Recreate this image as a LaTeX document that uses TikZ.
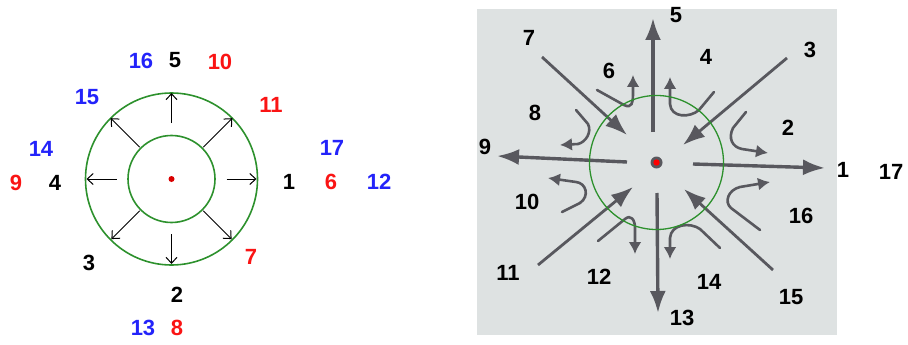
\documentclass[tikz,border=0pt]{standalone}
\usepackage{fontspec}
\setmainfont{Liberation Sans}
\usetikzlibrary{arrows.meta}
\definecolor{ringgreen}{RGB}{45,145,45}
\definecolor{labblue}{RGB}{35,35,250}
\definecolor{labred}{RGB}{250,20,20}
\definecolor{paper}{RGB}{222,226,226}
\definecolor{scan}{RGB}{88,88,94}
\begin{document}
\begin{tikzpicture}[x=1pt,y=-1pt,
  lb/.style={font=\bfseries\fontsize{22}{24}\selectfont,inner sep=0pt},
  ring/.style={draw=ringgreen,line width=1.6pt},
  ar/.style={-{Straight Barb[length=6pt,width=11pt]},line width=1pt},
  mv/.style={draw=scan,line width=3.4pt,-{Latex[length=22pt,width=16pt]}},
  tn/.style={draw=scan,line width=2.6pt,line cap=round,-{Latex[length=12pt,width=13pt]}}]
  \useasboundingbox (0,0) rectangle (908,345);
  \coordinate (lc) at (171.5,179);
  \draw[ring] (lc) circle (86);
  \draw[ring] (lc) circle (43.5);
  \fill[red!85!black] (lc) circle (3);
  \draw[ar] ([shift={(0:55)}]lc) -- ([shift={(0:85)}]lc);
  \draw[ar] ([shift={(90:55)}]lc) -- ([shift={(90:85)}]lc);
  \draw[ar] ([shift={(180:55)}]lc) -- ([shift={(180:85)}]lc);
  \draw[ar] ([shift={(270:56)}]lc) -- ([shift={(270:86)}]lc);
  \draw[ar] ([shift={(45:45)}]lc) -- ([shift={(45:85)}]lc);
  \draw[ar] ([shift={(135:45)}]lc) -- ([shift={(135:85)}]lc);
  \draw[ar] ([shift={(225:45)}]lc) -- ([shift={(225:86)}]lc);
  \draw[ar] ([shift={(315:45)}]lc) -- ([shift={(315:86)}]lc);
  \node[lb,text=labblue] (l16) at (141,61) {16};
  \node[lb] (l5) at (175,60) {5};
  \node[lb,text=labred] (l10) at (220,62) {10};
  \node[lb,text=labblue] (l15) at (87,97) {15};
  \node[lb,text=labred] (l11) at (271,105) {11};
  \node[lb,text=labblue] (l14) at (41,149) {14};
  \node[lb,text=labblue] (l17) at (332,148) {17};
  \node[lb,text=labred] (l9) at (16,183) {9};
  \node[lb] (l4) at (55,183) {4};
  \node[lb] (l1) at (289,182) {1};
  \node[lb,text=labred] (l6) at (331,182) {6};
  \node[lb,text=labblue] (l12) at (379,182) {12};
  \node[lb] (l3) at (89,263) {3};
  \node[lb,text=labred] (l7) at (251,257) {7};
  \node[lb] (l2) at (177,295) {2};
  \node[lb,text=labblue] (l13) at (143,328) {13};
  \node[lb,text=labred] (l8) at (177,328) {8};
  \fill[paper] (477,9) rectangle (837,335);
  \coordinate (rc) at (656.5,162.5);
  \draw[mv] (653,132) -- (653,18);
  \draw[mv] (657,193) -- (658,313);
  \draw[mv] (627,162) -- (497,156);
  \draw[mv] (693,164) -- (825,168);
  \draw[mv,line width=2.8pt] (542,57) -- (627,135);
  \draw[mv,line width=2.8pt] (787,58) -- (683,145);
  \draw[mv,line width=2.8pt] (538,265) -- (633,187);
  \draw[mv,line width=2.8pt] (773,270) -- (684,189);
  \draw[tn] (597,90) -- (624,105) .. controls (632,109) and (633,102) .. (633,95) -- (633,75);
  \draw[tn] (714,92) -- (699,110) .. controls (690,118) and (671,118) .. (670,104) -- (670,77);
  \draw[tn] (576,110) -- (588,124) .. controls (592,132) and (586,142) .. (578,144) -- (560,145);
  \draw[tn] (562,212) -- (580,203) .. controls (590,196) and (586,183) .. (576,182) -- (548,178);
  \draw[tn] (598,241) -- (625,219) .. controls (631,214) and (635,220) .. (635,228) -- (635,254);
  \draw[tn] (720,248) -- (700,229) .. controls (690,222) and (671,224) .. (670,238) -- (670,259);
  \draw[tn] (746,112) -- (733,128) .. controls (728,138) and (732,147) .. (742,149) -- (768,153);
  \draw[tn] (760,230) -- (731,208) .. controls (724,202) and (728,190) .. (740,187) -- (770,182);
  \draw[draw=ringgreen,line width=1.3pt] (rc) circle (67);
  \fill[scan] (rc) circle (6);
  \fill[red] (rc) circle (3.2);
  \node[lb] (r5) at (676,15) {5};
  \node[lb] (r7) at (529,38) {7};
  \node[lb] (r3) at (810,50) {3};
  \node[lb] (r4) at (706,57) {4};
  \node[lb] (r6) at (609,71) {6};
  \node[lb] (r8) at (535,113) {8};
  \node[lb] (r2) at (788,128) {2};
  \node[lb] (r9) at (485,147) {9};
  \node[lb] (r1) at (843,170) {1};
  \node[lb] (r17) at (891,172) {17};
  \node[lb] (r10) at (527,202) {10};
  \node[lb] (r16) at (801,216) {16};
  \node[lb] (r11) at (508,273) {11};
  \node[lb] (r12) at (599,277) {12};
  \node[lb] (r14) at (709,282) {14};
  \node[lb] (r15) at (791,297) {15};
  \node[lb] (r13) at (682,318) {13};
\end{tikzpicture}
\end{document}
